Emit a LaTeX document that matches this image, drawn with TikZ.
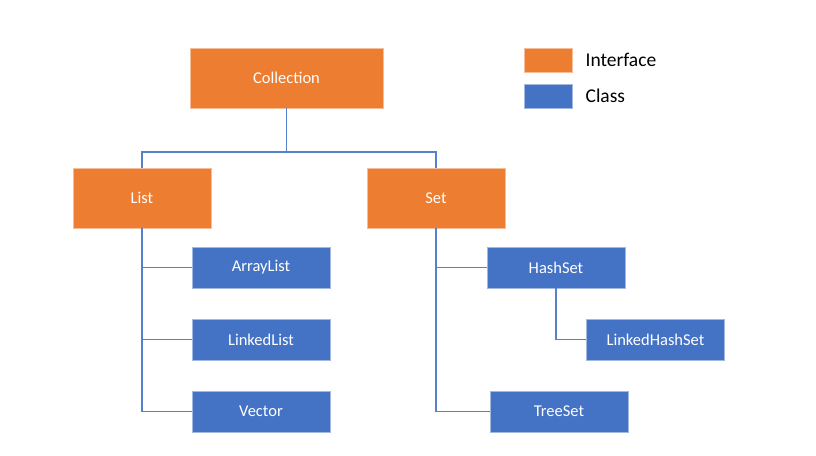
\documentclass[tikz,border=0pt]{standalone}
\usepackage{fontspec}
\setmainfont{Carlito}
\usetikzlibrary{positioning}
\definecolor{ifaceorange}{HTML}{ED7D31}
\definecolor{classblue}{HTML}{4472C4}
\tikzset{
  iface/.style={fill=ifaceorange,draw=ifaceorange!50!white,line width=0.8pt,text=white,
    inner sep=0pt,minimum width=138pt,minimum height=60pt,font=\fontsize{16.5}{19}\selectfont},
  cls/.style={fill=classblue,draw=classblue!50!white,line width=0.8pt,text=white,
    inner sep=0pt,minimum width=138pt,minimum height=41pt,font=\fontsize{16.5}{19}\selectfont},
  link/.style={draw=classblue!90!white,line width=1.6pt},
  legtext/.style={inner sep=0pt,font=\fontsize{19.5}{22}\selectfont}
}
\begin{document}
\begin{tikzpicture}[x=1pt,y=-1pt]
  \useasboundingbox (0,0) rectangle (816,455);
  \node[iface,minimum width=193pt] (coll) at (286.5,78) {Collection};
  \node[iface] (list) at (142,198) {List};
  \node[iface] (set) at (436,198) {Set};
  \node[cls] (arraylist) at (261,267.5) {ArrayList};
  \node[cls] (linkedlist) at (261,339.5) {LinkedList};
  \node[cls] (vector) at (261,411.5) {Vector};
  \node[cls] (hashset) at (556,267.5) {HashSet};
  \node[cls] (linkedhashset) at (655.5,339.5) {LinkedHashSet};
  \node[cls] (treeset) at (559,411.5) {TreeSet};
  \coordinate (bus) at (286.5,152);
  \draw[link] (coll.south) -- (bus);
  \draw[link] (list.north) |- (bus) -| (set.north);
  \foreach \c in {arraylist,linkedlist,vector}
    \draw[link] (list.south) |- (\c.west);
  \foreach \c in {hashset,treeset}
    \draw[link] (set.south) |- (\c.west);
  \draw[link] (hashset.south) |- (linkedhashset.west);
  % legend
  \node[iface,minimum width=48pt,minimum height=24pt] (legiface) at (548,60) {};
  \node[cls,minimum width=48pt,minimum height=24pt] (legclass) at (548,96) {};
  \node[legtext,right=13pt of legiface] {Interface};
  \node[legtext,right=13pt of legclass] {Class};
\end{tikzpicture}
\end{document}
